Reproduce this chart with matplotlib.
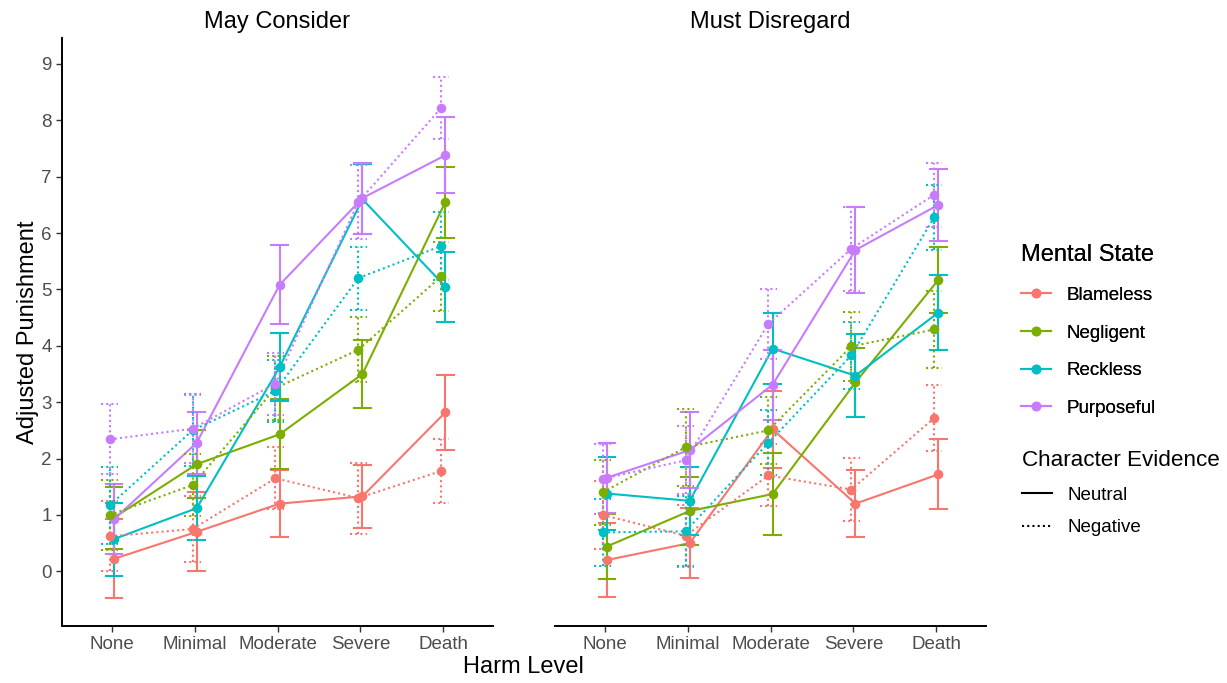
import matplotlib
matplotlib.use("Agg")
import matplotlib.pyplot as plt
import numpy as np
from matplotlib.lines import Line2D

plt.rcParams["font.family"] = ["Liberation Sans", "DejaVu Sans"]

# --------------------------------------------------
# DATA
# --------------------------------------------------

harm_levels = ["None", "Minimal", "Moderate", "Severe", "Death"]
mental_states = ["Blameless", "Negligent", "Reckless", "Purposeful"]
evidence = ["Neutral", "Negative"]
panels = ["May Consider", "Must Disregard"]

colors = ["#F8766D", "#7CAE00", "#00BFC4", "#C77CFF"]

# May Consider: means and error half-widths
may_neutral = {
    "Blameless": [0.22, 0.70, 1.20, 1.33, 2.82],
    "Negligent": [0.95, 1.90, 2.43, 3.50, 6.55],
    "Reckless": [0.57, 1.12, 3.62, 6.60, 5.05],
    "Purposeful": [0.92, 2.28, 5.08, 6.62, 7.38],
}
may_neutral_err = {
    "Blameless": [0.70, 0.70, 0.60, 0.56, 0.67],
    "Negligent": [0.55, 0.60, 0.62, 0.61, 0.63],
    "Reckless": [0.65, 0.57, 0.60, 0.62, 0.62],
    "Purposeful": [0.62, 0.55, 0.70, 0.63, 0.67],
}
may_negative = {
    "Blameless": [0.62, 0.75, 1.65, 1.30, 1.78],
    "Negligent": [1.00, 1.53, 3.25, 3.93, 5.23],
    "Reckless": [1.17, 2.50, 3.20, 5.20, 5.77],
    "Purposeful": [2.34, 2.53, 3.33, 6.55, 8.22],
}
may_negative_err = {
    "Blameless": [0.62, 0.58, 0.55, 0.63, 0.56],
    "Negligent": [0.62, 0.55, 0.57, 0.58, 0.62],
    "Reckless": [0.68, 0.64, 0.55, 0.56, 0.60],
    "Purposeful": [0.62, 0.60, 0.55, 0.65, 0.55],
}

# Must Disregard
must_neutral = {
    "Blameless": [0.20, 0.50, 2.52, 1.20, 1.72],
    "Negligent": [0.44, 1.07, 1.37, 3.35, 5.17],
    "Reckless": [1.38, 1.25, 3.95, 3.47, 4.59],
    "Purposeful": [1.66, 2.15, 3.31, 5.70, 6.50],
}
must_neutral_err = {
    "Blameless": [0.65, 0.62, 0.68, 0.59, 0.62],
    "Negligent": [0.58, 0.60, 0.73, 0.62, 0.58],
    "Reckless": [0.65, 0.60, 0.63, 0.74, 0.66],
    "Purposeful": [0.62, 0.68, 0.62, 0.76, 0.64],
}
must_negative = {
    "Blameless": [1.00, 0.63, 1.70, 1.45, 2.72],
    "Negligent": [1.40, 2.20, 2.50, 3.99, 4.29],
    "Reckless": [0.69, 0.71, 2.28, 3.83, 6.28],
    "Purposeful": [1.64, 1.97, 4.39, 5.72, 6.68],
}
must_negative_err = {
    "Blameless": [0.60, 0.55, 0.55, 0.56, 0.59],
    "Negligent": [0.57, 0.68, 0.60, 0.61, 0.68],
    "Reckless": [0.60, 0.62, 0.58, 0.59, 0.58],
    "Purposeful": [0.62, 0.60, 0.62, 0.75, 0.57],
}

panel_data = [
    [(may_neutral, may_neutral_err), (may_negative, may_negative_err)],
    [(must_neutral, must_neutral_err), (must_negative, must_negative_err)],
]

# --------------------------------------------------
# FIGURE
# --------------------------------------------------

W, H = 1227, 683
fig = plt.figure(figsize=(W / 100, H / 100), dpi=100)

def px_axes(x0, y0, x1, y1):
    return fig.add_axes([x0 / W, 1 - y1 / H, (x1 - x0) / W, (y1 - y0) / H])

axes = [px_axes(62, 38, 493, 626), px_axes(555, 38, 986, 626)]

linestyles = ["-", (0, (1, 1.5))]
dodge = [0.025, -0.025]
x = np.arange(len(harm_levels))
lw = 1.5

for ax, title, pdata in zip(axes, panels, panel_data):
    for ev_i, (means, errs) in enumerate(pdata):
        ls = linestyles[ev_i]
        xs = x + dodge[ev_i]
        for state, col in zip(mental_states, colors):
            m = np.array(means[state])
            e = np.array(errs[state])
            ax.plot(xs, m, color=col, lw=lw, ls=ls, zorder=2)
            ax.scatter(xs, m, color=col, s=48, zorder=3, linewidths=0)
            for xi, mi, ei in zip(xs, m, e):
                ax.plot([xi, xi], [mi - ei, mi + ei], color=col, lw=lw, ls=ls, zorder=2)
                for yy in (mi - ei, mi + ei):
                    ax.plot([xi - 0.1, xi + 0.1], [yy, yy], color=col, lw=lw, ls=ls, zorder=2)

    ax.set_xlim(-0.6, 4.6)
    ax.set_ylim(-0.97, 9.46)
    ax.set_xticks(x)
    ax.set_xticklabels(harm_levels, fontsize=13.5, color="#4D4D4D")
    ax.set_yticks(range(10))
    ax.tick_params(axis="both", colors="#333333", labelcolor="#4D4D4D",
                   labelsize=13.5, length=4, width=1)
    for side in ("top", "right"):
        ax.spines[side].set_visible(False)
    ax.spines["bottom"].set_linewidth(1.4)
    ax.spines["left"].set_linewidth(1.4)
    ax.set_title(title, fontsize=17, pad=7)

# right panel has no y axis
axes[1].spines["left"].set_visible(False)
axes[1].tick_params(axis="y", left=False, labelleft=False)

axes[0].set_ylabel("Adjusted Punishment", fontsize=17)
axes[0].yaxis.set_label_coords((39 - 62) / 431, 0.5)
fig.text(523 / W, 1 - 667 / H, "Harm Level", fontsize=17, ha="center", va="center")

# --------------------------------------------------
# LEGENDS
# --------------------------------------------------

state_handles = [
    Line2D([], [], color=c, lw=lw, marker="o", markersize=7, markeredgewidth=0)
    for c in colors
]
leg1 = fig.legend(state_handles, mental_states, title="Mental State",
                  loc="upper left", bbox_to_anchor=(1021 / W, 1 - 244 / H),
                  frameon=False, fontsize=13.5, title_fontsize=17,
                  alignment="left", handlelength=1.6, handletextpad=0.85,
                  labelspacing=1.1, borderpad=0, borderaxespad=0)

ev_handles = [Line2D([], [], color="black", lw=lw, ls=ls) for ls in linestyles]
leg2 = fig.legend(ev_handles, evidence, title="Character Evidence",
                  loc="upper left", bbox_to_anchor=(1022 / W, 1 - 450 / H),
                  frameon=False, fontsize=13.5, title_fontsize=16.2,
                  alignment="left", handlelength=1.6, handletextpad=0.85,
                  labelspacing=0.83, borderpad=0, borderaxespad=0)
fig.add_artist(leg1)

fig.savefig("out.png", dpi=100)
plt.close(fig)
